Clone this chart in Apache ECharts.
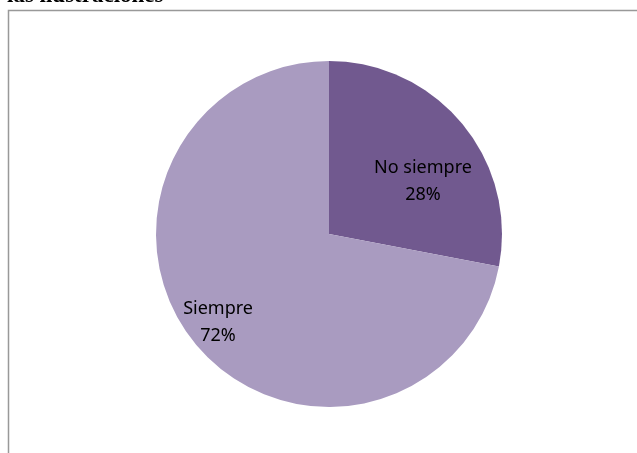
<!DOCTYPE html>
<html>
<head>
<meta charset="utf-8">
<script src="https://cdn.jsdelivr.net/npm/echarts@6/dist/echarts.min.js"></script>
<style>
  html, body { margin: 0; padding: 0; background: #fff; }
  #chart { width: 637px; height: 453px; }
</style>
</head>
<body>
<div id="chart"></div>
<script>
// slice data
const categories = ['No siempre', 'Siempre'];
const values = [28, 72];
const colors = ['#71598f', '#a99bc0'];
const labelOffsets = [[25, 4], [-42, 31]];

const chart = echarts.init(document.getElementById('chart'));

const option = {
  animation: false,
  graphic: [
    {
      // cut-off caption above the frame
      type: 'text',
      left: 7,
      top: -15,
      style: {
        text: 'las ilustraciones',
        font: 'bold 23px "Liberation Serif"',
        fill: '#000'
      }
    },
    {
      type: 'rect',
      shape: { x: 8.5, y: 10.5, width: 700, height: 500 },
      style: { fill: 'none', stroke: '#999', lineWidth: 1.5 }
    }
  ],
  series: [
    {
      type: 'pie',
      center: [329, 234],
      radius: 173,
      startAngle: 90,
      clockwise: true,
      silent: true,
      label: {
        show: true,
        position: 'inside',
        formatter: '{b}\n{d}%',
        color: '#000',
        fontFamily: 'Noto Sans',
        fontSize: 18,
        lineHeight: 27
      },
      labelLine: { show: false },
      itemStyle: { borderWidth: 0 },
      data: categories.map((name, i) => ({
        name: name,
        value: values[i],
        itemStyle: { color: colors[i] },
        label: { offset: labelOffsets[i] }
      }))
    }
  ]
};

chart.setOption(option);
</script>
</body>
</html>
